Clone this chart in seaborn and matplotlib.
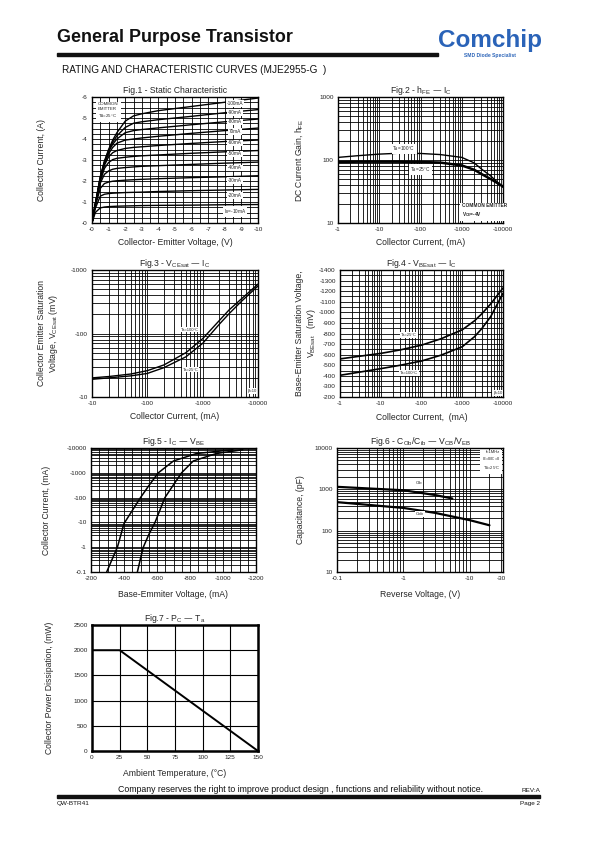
import numpy as np
import pandas as pd
import seaborn as sns
import matplotlib.pyplot as plt
from matplotlib.ticker import MultipleLocator, LogLocator, NullFormatter
from matplotlib.patches import Rectangle

# ---------------- data ----------------
# Fig.1 static characteristic (magnitudes, V and A)
fig1_vce = [0, 0.2, 0.5, 0.75, 1.0, 1.25, 1.5, 2.0, 2.5, 3.0, 4.0, 6.0, 8.0, 10.0]
fig1_ib_labels = ["-100mA", "-90mA", "-80mA", "70mA", "-60mA", "-50mA",
                  "-40mA", "-30mA", "-20mA", "I$_B$=-10mA"]
fig1_ic = [
    [0, 0.9, 2.2, 2.95, 3.5, 3.95, 4.3, 4.85, 5.1, 5.2, 5.35, 5.55, 5.75, 5.95],
    [0, 0.9, 2.2, 2.92, 3.45, 3.85, 4.15, 4.55, 4.75, 4.82, 4.92, 5.08, 5.25, 5.4],
    [0, 0.9, 2.15, 2.88, 3.4, 3.75, 4.0, 4.3, 4.4, 4.45, 4.53, 4.68, 4.82, 4.95],
    [0, 0.9, 2.1, 2.82, 3.3, 3.6, 3.8, 3.95, 4.0, 4.05, 4.13, 4.27, 4.4, 4.52],
    [0, 0.9, 2.05, 2.75, 3.15, 3.35, 3.45, 3.55, 3.6, 3.63, 3.69, 3.79, 3.88, 3.95],
    [0, 0.88, 2.0, 2.6, 2.88, 3.02, 3.08, 3.13, 3.17, 3.2, 3.24, 3.32, 3.39, 3.45],
    [0, 0.85, 1.9, 2.32, 2.48, 2.56, 2.6, 2.64, 2.67, 2.7, 2.73, 2.79, 2.85, 2.9],
    [0, 0.8, 1.65, 1.88, 1.95, 1.99, 2.01, 2.04, 2.06, 2.08, 2.11, 2.16, 2.2, 2.25],
    [0, 0.7, 1.28, 1.37, 1.4, 1.42, 1.43, 1.45, 1.46, 1.47, 1.5, 1.54, 1.57, 1.6],
    [0, 0.5, 0.72, 0.76, 0.78, 0.79, 0.8, 0.81, 0.82, 0.83, 0.84, 0.85, 0.87, 0.88],
]
fig1_label_y = [5.68, 5.26, 4.81, 4.37, 3.81, 3.29, 2.62, 2.03, 1.32, 0.56]
fig1_xticks = list(range(0, 11))
fig1_xticklabels = ["-0"] + [f"-{i}" for i in range(1, 11)]
fig1_yticks = list(range(0, 7))
fig1_yticklabels = ["-0"] + [f"-{i}" for i in range(1, 7)]

# Fig.2 hFE vs Ic (mA)
fig2_ic = [1, 3, 10, 30, 100, 300, 1000, 2000, 3000, 5000, 10000]
fig2_hfe_100 = [110, 117, 124, 128, 127, 122, 110, 90, 72, 56, 37]
fig2_hfe_25 = [93, 94, 94, 94, 93, 91, 82, 70, 60, 50, 38]

# Fig.3 VCEsat vs Ic
fig3_ic = [10, 20, 50, 100, 200, 500, 1000, 2000, 3000, 5000, 10000]
fig3_v_100 = [20, 21, 23, 26, 32, 50, 83, 160, 235, 350, 600]
fig3_v_25 = [19, 20, 21.5, 23.5, 29, 43, 70, 140, 205, 320, 560]

# Fig.4 VBEsat vs Ic
fig4_ic = [1, 3, 10, 30, 100, 300, 1000, 2000, 3000, 5000, 10000]
fig4_v_25 = [560, 585, 612, 645, 690, 750, 835, 920, 985, 1080, 1230]
fig4_v_100 = [405, 435, 468, 500, 540, 595, 675, 770, 845, 960, 1180]

# Fig.5 Ic vs VBE
fig5_vbe_a = [295, 330, 360, 400, 450, 500, 550, 608, 700, 840, 1060]
fig5_ic_a = [0.1, 0.35, 1, 9, 30, 100, 300, 1000, 3000, 6000, 8500]
fig5_vbe_b = [481, 500, 517, 550, 588, 648, 700, 749, 820, 960, 1120]
fig5_ic_b = [0.1, 0.35, 1, 3.2, 10, 100, 330, 1000, 3000, 6000, 8500]
fig5_yticks = [0.1, 1, 10, 100, 1000, 10000]
fig5_yticklabels = ["-0.1", "-1", "-10", "-100", "-1000", "-10000"]
fig5_xticks = [200, 400, 600, 800, 1000, 1200]
fig5_xticklabels = ["-200", "-400", "-600", "-800", "-1000", "-1200"]

# Fig.6 capacitance vs reverse voltage
fig6_v_cib = [0.1, 0.3, 1, 3, 5.5]
fig6_cib = [1150, 1050, 950, 730, 600]
fig6_v_cob = [0.1, 0.3, 1, 3, 10, 20]
fig6_cob = [490, 420, 355, 270, 180, 135]
fig6_xticks = [0.1, 1, 10, 30]
fig6_xticklabels = ["-0.1", "-1", "-10", "-30"]

# Fig.7 power derating
fig7_ta = [0, 25, 150]
fig7_pc = [2000, 2000, 0]

# ---------------- style ----------------
sns.set_theme(style="white")
plt.rcParams['font.family'] = ['Liberation Sans', 'DejaVu Sans']
plt.rcParams['mathtext.default'] = 'regular'

W, H = 595, 842
fig = plt.figure(figsize=(W / 100, H / 100), dpi=100)
fig.patch.set_facecolor('white')

TICK_FS = 4.6
LAB_FS = 6.2
BOX = dict(fc='white', ec='none', pad=0.6)


def place(left, top, right, bottom):
    return fig.add_axes([left / W, 1 - bottom / H, (right - left) / W, (bottom - top) / H])


def style(ax, lw=1.0):
    for s in ax.spines.values():
        s.set_visible(True)
        s.set_color('black')
        s.set_linewidth(lw)
    ax.tick_params(which='both', length=0, labelsize=TICK_FS, pad=3, colors='#222222')
    ax.grid(True, which='both', color='black', lw=0.6)
    ax.set_axisbelow(True)


def log_minor(axis):
    axis.set_major_locator(LogLocator(base=10))
    axis.set_minor_locator(LogLocator(base=10, subs=np.arange(2, 10)))
    axis.set_minor_formatter(NullFormatter())


def neg_labels(vals):
    out = []
    for v in vals:
        out.append(f"-{v:g}")
    return out


def curve(ax, x, y, lw=1.1):
    sns.lineplot(x=x, y=y, ax=ax, color='black', lw=lw, sort=False,
                 estimator=None, legend=False)


# ---------------- Fig.1 ----------------
ax1 = place(92, 97, 258, 223)
for ic in fig1_ic:
    curve(ax1, fig1_vce, ic, lw=1.0)
ax1.set_xlim(0, 10)
ax1.set_ylim(0, 6)
ax1.xaxis.set_minor_locator(MultipleLocator(0.5))
ax1.yaxis.set_minor_locator(MultipleLocator(0.25))
ax1.set_xticks(fig1_xticks)
ax1.set_xticklabels(fig1_xticklabels)
ax1.set_yticks(fig1_yticks)
ax1.set_yticklabels(fig1_yticklabels)
style(ax1)
for lab, yy in zip(fig1_ib_labels, fig1_label_y):
    ax1.text(8.6, yy, lab, fontsize=3.4, ha='center', va='center', bbox=BOX, zorder=5)
ax1.text(0.35, 5.75, "COMMON\nEMITTER\nT$_A$=25°C", fontsize=3.2, ha='left', va='top',
         linespacing=1.3, bbox=dict(fc='white', ec='none', pad=1.5), zorder=5)
ax1.set_title("Fig.1 - Static Characteristic", fontsize=LAB_FS, pad=3)
ax1.set_xlabel("Collector- Emitter Voltage, (V)", fontsize=LAB_FS, labelpad=4)
ax1.set_ylabel("Collector Current, (A)", fontsize=LAB_FS)
ax1.yaxis.set_label_coords(-0.28, 0.5)

# ---------------- Fig.2 ----------------
ax2 = place(338, 97, 503, 223)
curve(ax2, fig2_ic, fig2_hfe_100, lw=1.0)
curve(ax2, fig2_ic, fig2_hfe_25, lw=1.8)
ax2.set_xscale('log')
ax2.set_yscale('log')
ax2.set_xlim(1, 10000)
ax2.set_ylim(10, 1000)
log_minor(ax2.xaxis)
log_minor(ax2.yaxis)
ax2.set_xticks([1, 10, 100, 1000, 10000])
ax2.set_xticklabels(["-1", "-10", "-100", "-1000", "-10000"])
ax2.set_yticks([10, 100, 1000])
ax2.set_yticklabels(["10", "100", "1000"])
style(ax2)
ax2.text(40, 150, "T$_A$=100°C", fontsize=3.4, ha='center', va='center', bbox=BOX, zorder=5)
ax2.text(100, 70, "T$_A$=25°C", fontsize=3.4, ha='center', va='center', bbox=BOX, zorder=5)
ax2.text(1000, 11.5, "COMMON EMITTER\nV$_{CE}$=-4V", fontsize=3.4, ha='left', va='bottom',
         fontweight='bold', linespacing=1.4, bbox=dict(fc='white', ec='none', pad=1.2), zorder=5)
ax2.set_title("Fig.2 - h$_{FE}$ — I$_C$", fontsize=LAB_FS, pad=3)
ax2.set_xlabel("Collector Current, (mA)", fontsize=LAB_FS, labelpad=4)
ax2.set_ylabel("DC Current Gain, h$_{FE}$", fontsize=LAB_FS)
ax2.yaxis.set_label_coords(-0.2, 0.5)

# ---------------- Fig.3 ----------------
ax3 = place(92, 270, 258, 397)
curve(ax3, fig3_ic, fig3_v_100, lw=1.0)
curve(ax3, fig3_ic, fig3_v_25, lw=1.0)
ax3.set_xscale('log')
ax3.set_yscale('log')
ax3.set_xlim(10, 10000)
ax3.set_ylim(10, 1000)
log_minor(ax3.xaxis)
log_minor(ax3.yaxis)
ax3.set_xticks([10, 100, 1000, 10000])
ax3.set_xticklabels(["-10", "-100", "-1000", "-10000"])
ax3.set_yticks([10, 100, 1000])
ax3.set_yticklabels(["-10", "-100", "-1000"])
style(ax3)
ax3.text(600, 115, "Ta=100°C", fontsize=3.0, ha='center', va='center', bbox=BOX, zorder=5)
ax3.text(600, 27, "Ta=25°C", fontsize=3.0, ha='center', va='center', bbox=BOX, zorder=5)
ax3.text(7800, 12.5, "β=10", fontsize=3.0, ha='center', va='center', bbox=BOX, zorder=5)
ax3.set_title("Fig.3 - V$_{CEsat}$ — I$_C$", fontsize=LAB_FS, pad=3)
ax3.set_xlabel("Collector Current, (mA)", fontsize=LAB_FS, labelpad=4)
ax3.set_ylabel("Collector Emitter Saturation\nVoltage, V$_{CEsat}$ (mV)", fontsize=LAB_FS,
               linespacing=1.2)
ax3.yaxis.set_label_coords(-0.19, 0.5)

# ---------------- Fig.4 ----------------
ax4 = place(340, 270, 503, 397)
curve(ax4, fig4_ic, fig4_v_25, lw=1.2)
curve(ax4, fig4_ic, fig4_v_100, lw=1.2)
ax4.set_xscale('log')
ax4.set_xlim(1, 10000)
ax4.set_ylim(200, 1400)
log_minor(ax4.xaxis)
ax4.set_xticks([1, 10, 100, 1000, 10000])
ax4.set_xticklabels(["-1", "-10", "-100", "-1000", "-10000"])
fig4_yticks = list(range(200, 1401, 100))
ax4.set_yticks(fig4_yticks)
ax4.set_yticklabels(neg_labels(fig4_yticks))
ax4.yaxis.set_minor_locator(MultipleLocator(50))
style(ax4)
ax4.text(50, 785, "Ta=25°C", fontsize=3.0, ha='center', va='center', bbox=BOX, zorder=5)
ax4.text(50, 425, "Ta=100°C", fontsize=3.0, ha='center', va='center', bbox=BOX, zorder=5)
ax4.text(7500, 240, "β=10", fontsize=3.0, ha='center', va='center', bbox=BOX, zorder=5)
ax4.set_title("Fig.4 - V$_{BEsat}$ — I$_C$", fontsize=LAB_FS, pad=3)
ax4.set_xlabel("Collector Current,  (mA)", fontsize=LAB_FS, labelpad=5)
ax4.set_ylabel("Base-Emitter Saturation Voltage,\nV$_{BEsat}$   (mV)", fontsize=LAB_FS,
               linespacing=1.15)
ax4.yaxis.set_label_coords(-0.135, 0.5)

# ---------------- Fig.5 ----------------
ax5 = place(91, 448, 256, 572)
curve(ax5, fig5_vbe_a, fig5_ic_a, lw=1.1)
curve(ax5, fig5_vbe_b, fig5_ic_b, lw=1.1)
ax5.set_yscale('log')
ax5.set_xlim(200, 1200)
ax5.set_ylim(0.1, 10000)
log_minor(ax5.yaxis)
ax5.xaxis.set_minor_locator(MultipleLocator(50))
ax5.set_xticks(fig5_xticks)
ax5.set_xticklabels(fig5_xticklabels)
ax5.set_yticks(fig5_yticks)
ax5.set_yticklabels(fig5_yticklabels)
style(ax5)
ax5.set_title("Fig.5 - I$_C$ — V$_{BE}$", fontsize=LAB_FS, pad=3)
ax5.set_xlabel("Base-Emmiter Voltage, (mA)", fontsize=LAB_FS, labelpad=6)
ax5.set_ylabel("Collector Current, (mA)", fontsize=LAB_FS)
ax5.yaxis.set_label_coords(-0.24, 0.5)

# ---------------- Fig.6 ----------------
ax6 = place(337, 448, 503, 572)
curve(ax6, fig6_v_cib, fig6_cib, lw=1.6)
curve(ax6, fig6_v_cob, fig6_cob, lw=1.6)
ax6.set_xscale('log')
ax6.set_yscale('log')
ax6.set_xlim(0.1, 32)
ax6.set_ylim(10, 10000)
log_minor(ax6.xaxis)
log_minor(ax6.yaxis)
ax6.set_xticks(fig6_xticks)
ax6.set_xticklabels(fig6_xticklabels)
ax6.set_yticks([10, 100, 1000, 10000])
ax6.set_yticklabels(["10", "100", "1000", "10000"])
style(ax6)
ax6.text(1.7, 1400, "Cib", fontsize=3.2, ha='center', va='center', bbox=BOX, zorder=5)
ax6.text(1.8, 255, "Cob", fontsize=3.2, ha='center', va='center', bbox=BOX, zorder=5)
ax6.text(0.985, 0.985, "f=1MHz\nI$_E$=0/I$_C$=0\nT$_A$=25°C", transform=ax6.transAxes,
         fontsize=2.9, ha='right', va='top', linespacing=1.3,
         bbox=dict(fc='white', ec='none', pad=1.2), zorder=5)
ax6.set_title("Fig.6 - C$_{Ob}$/C$_{ib}$ — V$_{CB}$/V$_{EB}$", fontsize=LAB_FS, pad=3)
ax6.set_xlabel("Reverse Voltage, (V)", fontsize=LAB_FS, labelpad=6)
ax6.set_ylabel("Capacitance, (pF)", fontsize=LAB_FS)
ax6.yaxis.set_label_coords(-0.195, 0.5)

# ---------------- Fig.7 ----------------
ax7 = place(92, 625, 258, 751)
curve(ax7, fig7_ta, fig7_pc, lw=1.4)
ax7.set_xlim(0, 150)
ax7.set_ylim(0, 2500)
ax7.set_xticks(list(range(0, 151, 25)))
ax7.set_yticks(list(range(0, 2501, 500)))
style(ax7, lw=1.8)
ax7.grid(True, which='major', color='black', lw=0.8)
ax7.set_title("Fig.7 - P$_C$ — T$_a$", fontsize=LAB_FS, pad=3)
ax7.set_xlabel("Ambient Temperature, (°C)", fontsize=LAB_FS, labelpad=6)
ax7.set_ylabel("Collector Power Dissipation, (mW)", fontsize=LAB_FS)
ax7.yaxis.set_label_coords(-0.23, 0.5)

# ---------------- page header / footer ----------------
fig.text(57 / W, 1 - 38 / H, "General Purpose Transistor", fontsize=12.9,
         fontweight='bold', ha='left', va='center', color='#111111')
fig.patches.append(Rectangle((57 / W, 1 - 56 / H), (438 - 57) / W, 3.5 / H,
                             transform=fig.transFigure, color='#111111'))
fig.text(490 / W, 1 - 40 / H, "Comchip", fontsize=17.5, fontweight='bold',
         ha='center', va='center', color='#2a63b8')
fig.text(490 / W, 1 - 56 / H, "SMD Diode Specialist", fontsize=3.6, fontweight='bold',
         ha='center', va='center', color='#2a63b8')
fig.text(62 / W, 1 - 70 / H, "RATING AND CHARACTERISTIC CURVES (MJE2955-G  )",
         fontsize=7.2, ha='left', va='center', color='#111111')

fig.text(300 / W, 1 - 790 / H,
         "Company reserves the right to improve product design , functions and reliability without notice.",
         fontsize=6.3, ha='center', va='center', color='#111111')
fig.text(540 / W, 1 - 790 / H, "REV:A", fontsize=4.6, ha='right', va='center', color='#111111')
fig.patches.append(Rectangle((57 / W, 1 - 798 / H), (540 - 57) / W, 3 / H,
                             transform=fig.transFigure, color='#111111'))
fig.text(57 / W, 1 - 804 / H, "QW-BTR41", fontsize=4.6, ha='left', va='center', color='#111111')
fig.text(540 / W, 1 - 804 / H, "Page 2", fontsize=4.6, ha='right', va='center', color='#111111')

plt.savefig("out.png", dpi=100)
plt.close()
